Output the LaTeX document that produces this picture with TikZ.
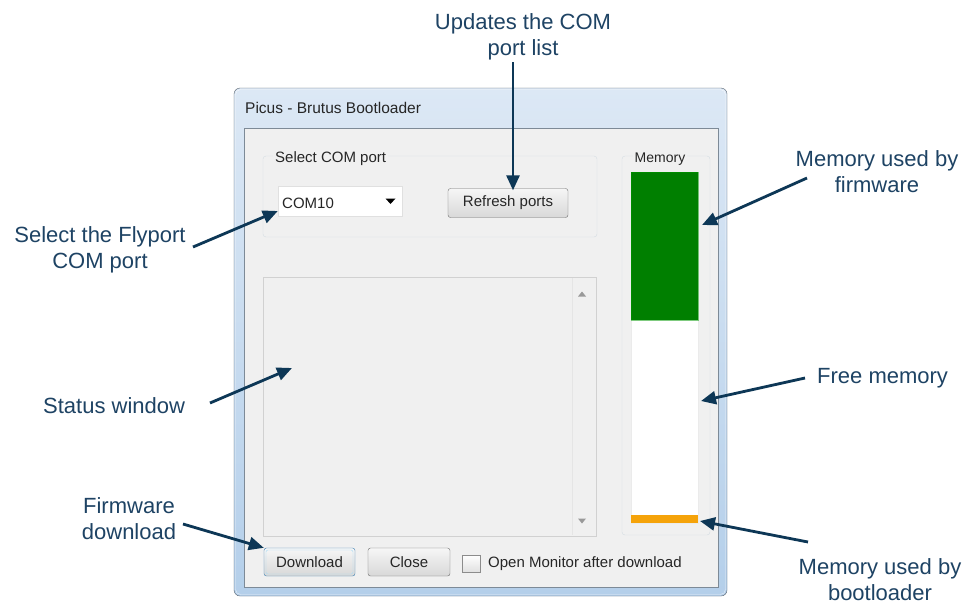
\documentclass[tikz,border=0pt]{standalone}
\usepackage{fontspec}
\setmainfont{Liberation Sans}
\usetikzlibrary{arrows.meta}

\definecolor{note}{HTML}{1E4364}
\definecolor{arrowc}{HTML}{0D3756}
\definecolor{frameTop}{HTML}{DCE8F5}
\definecolor{frameBot}{HTML}{B4CFEA}
\definecolor{frameLine}{HTML}{55606C}
\definecolor{client}{HTML}{F0F0F0}
\definecolor{clientLine}{HTML}{7D8A97}
\definecolor{groupLine}{HTML}{D5DDE3}
\definecolor{btnLine}{HTML}{707070}
\definecolor{btnTop}{HTML}{F6F6F6}
\definecolor{btnBot}{HTML}{D8D8D8}
\definecolor{focusLine}{HTML}{3C7FB1}
\definecolor{focusGlow}{HTML}{A9DBF4}
\definecolor{fwGreen}{HTML}{007F00}
\definecolor{blOrange}{HTML}{F5A30A}

\tikzset{
  uitext/.style={font=\fontsize{15}{18}\selectfont, text=black!85, inner sep=0pt},
  notetext/.style={font=\fontsize{22}{26}\selectfont, text=note, align=center, inner sep=0pt},
  callout/.style={draw=arrowc, line width=2.8pt, -{Triangle[length=15pt,width=13pt]}},
  winbutton/.style={uitext, draw=btnLine, rounded corners=2.5pt, top color=btnTop, bottom color=btnBot, minimum height=29pt},
}

\begin{document}
\begin{tikzpicture}[x=1pt,y=-1pt]
\useasboundingbox (0,0) rectangle (973,606);
\fill[white] (0,0) rectangle (973,606);

% ---- window frame ----
\shade[top color=frameTop, bottom color=frameBot, rounded corners=6pt] (234,88) rectangle (727,596);
\draw[frameLine, rounded corners=6pt] (234,88) rectangle (727,596);
\draw[white, opacity=0.7, rounded corners=5pt] (235.5,89.5) rectangle (725.5,594.5);
\node[anchor=base west, font=\fontsize{15.5}{18}\selectfont, text=black!85, inner sep=0pt] (title) at (245,113) {Picus - Brutus Bootloader};

% ---- client area ----
\fill[client] (244,128) rectangle (718,587);
\draw[clientLine] (244,128) rectangle (718,587);

% ---- COM port group ----
\draw[groupLine, rounded corners=3pt] (263,156) rectangle (597,237);
\node[uitext, fill=client, inner xsep=2pt, anchor=base west] (comgroup) at (273,162) {Select COM port};
\node[draw=black!12, fill=white, minimum width=124pt, minimum height=30pt, inner sep=0pt] (combo) at (340,201) {};
\node[uitext, anchor=base west] (comval) at (282,208) {COM10};
\fill[black] (385.5,198.5) -- (395.5,198.5) -- (390.5,204) -- cycle;
\node[winbutton, minimum width=120pt] (refresh) at (508,203) {Refresh ports};

% ---- status list ----
\draw[black!18, fill=client] (263,277) rectangle (596,536);
\draw[black!10] (572,278) -- (572,535);
\fill[black!40] (578,296.5) -- (586,296.5) -- (582,291.5) -- cycle;
\fill[black!40] (578,518.5) -- (586,518.5) -- (582,523.5) -- cycle;
\coordinate (status) at (292,368);

% ---- memory group ----
\draw[groupLine, rounded corners=3pt] (622,156) rectangle (710,535);
\node[font=\fontsize{14}{17}\selectfont, text=black!85, inner sep=0pt, fill=client, inner xsep=1.5pt, anchor=base west] (memgroup) at (633,162) {Memory};
\fill[white] (631,172) rectangle (698,523);
\draw[black!8] (631,172) rectangle (698,523);
\fill[fwGreen] (631,172) rectangle (698,320);
\draw[green!60!black, opacity=0.5] (631,172) rectangle (698,320);
\fill[blOrange] (631,515) rectangle (698,523);
\coordinate (fw) at (702,225);
\coordinate (free) at (701,401);
\coordinate (bl) at (700,521);

% ---- bottom buttons ----
\node[winbutton, draw=focusLine, minimum width=91pt, minimum height=28pt] (download) at (309.5,562) {};
\draw[focusGlow, rounded corners=1.5pt] (266,550) rectangle (353,574);
\node[uitext, anchor=base] (dltext) at (309.5,567) {Download};
\node[winbutton, minimum width=82pt, minimum height=28pt] (close) at (409,562) {Close};
\node[draw=black!45, top color=white, bottom color=black!12, minimum width=18pt, minimum height=17pt, inner sep=0pt] (check) at (471,563.5) {};
\node[uitext, anchor=base west] (monitor) at (488,567) {Open Monitor after download};

% ---- annotations (base anchor = baseline of the last line) ----
\node[notetext, anchor=base] (nUpd) at (523,55) {Updates the COM\\port list};
\node[notetext, anchor=base] (nSel) at (100,268) {Select the Flyport\\COM port};
\node[notetext, anchor=base west] (nStat) at (43,413) {Status window};
\node[notetext, anchor=base] (nDl) at (129,539) {Firmware\\download};
\node[notetext, anchor=base] (nFw) at (877,192) {Memory used by\\firmware};
\node[notetext, anchor=base west] (nFree) at (817,383) {Free memory};
\node[notetext, anchor=base] (nBl) at (880,600) {Memory used by\\bootloader};

\coordinate (tUpd) at (513,62);
\coordinate (tSel) at (193,247);
\coordinate (tStat) at (210,403);
\coordinate (tDl) at (183,524);
\coordinate (tFw) at (807,178);
\coordinate (tFree) at (805,378);
\coordinate (tBl) at (808,542);

\draw[callout] (tUpd) -- ([xshift=5pt,yshift=-2pt]refresh.north);
\draw[callout] (tSel) -- (combo.west |- 0,211);
\draw[callout] (tStat) -- (status);
\draw[callout] (tDl) -- (download.north west);
\draw[callout] (tFw) -- (fw);
\draw[callout] (tFree) -- (free);
\draw[callout] (tBl) -- (bl);
\end{tikzpicture}
\end{document}
